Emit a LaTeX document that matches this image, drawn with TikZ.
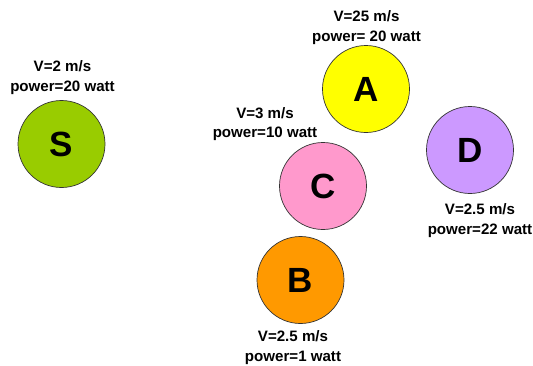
\documentclass[tikz,border=0pt]{standalone}
\usepackage{fontspec}
\setmainfont{Liberation Sans}
\definecolor{cS}{RGB}{153,204,0}
\definecolor{cA}{RGB}{255,255,0}
\definecolor{cC}{RGB}{255,153,204}
\definecolor{cD}{RGB}{204,153,255}
\definecolor{cB}{RGB}{255,153,0}
\begin{document}
\begin{tikzpicture}[x=1pt,y=-1pt,
  ball/.style={circle,draw=black!80,line width=0.7pt,minimum size=87pt,inner sep=0pt,
    font=\bfseries\fontsize{35}{35}\selectfont},
  info/.style={align=center,inner sep=0pt,font=\bfseries\fontsize{15.1}{19.5}\selectfont}]
\useasboundingbox (0,0) rectangle (533,365);
\node[ball,fill=cS] (S) at (61.5,144) {S};
\node[ball,fill=cA] (A) at (366,89) {A};
\node[ball,fill=cC] (C) at (323,186) {C};
\node[ball,fill=cD] (D) at (470,150) {D};
\node[ball,fill=cB] (B) at (300.5,280) {B};
\node[info] (lS) at (62.5,77.5) {V=2 m/s\\power=20 watt};
\node[info] (lA) at (366.5,27.5) {V=25 m/s\\power= 20 watt};
\node[info] (lC) at (265,124) {V=3 m/s\\power=10 watt};
\node[info] (lD) at (480,220.5) {V=2.5 m/s\\power=22 watt};
\node[info] (lB) at (293,347.5) {V=2.5 m/s\\power=1 watt};
\end{tikzpicture}
\end{document}
